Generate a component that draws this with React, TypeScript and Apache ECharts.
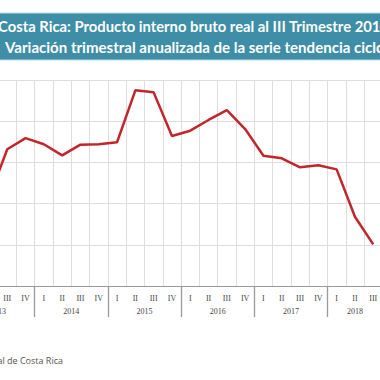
import React, { useEffect, useRef } from "react";
import * as echarts from "echarts";

const years = ["2013", "2014", "2015", "2016", "2017", "2018"];
const quartersPerYear = [4, 4, 4, 4, 4, 3];
const quarterLabels = ["I", "II", "III", "IV"];
const growth = [
  2.0, 2.14, 3.32, 3.59,
  3.44, 3.17, 3.43, 3.44,
  3.49, 4.75, 4.7, 3.64,
  3.77, 4.03, 4.27, 3.81,
  3.16, 3.1, 2.88, 2.93,
  2.83, 1.68, 1.01,
];
const titleLine1 = "Costa Rica: Producto interno bruto real al III Trimestre 2018";
const titleLine2 = "Variación trimestral anualizada de la serie tendencia ciclo";
const sourceText = "Fuente: Banco Central de Costa Rica";

const OFF = 100;
const W = 580;
const H = 380;

export default function App() {
  const ref = useRef<HTMLDivElement>(null);
  useEffect(() => {
    if (!ref.current) return;
    const chart = echarts.init(ref.current, undefined, { renderer: "svg" });
    const categories: string[] = [];
    years.forEach((y, i) => {
      for (let q = 0; q < quartersPerYear[i]; q++) categories.push(y + " " + quarterLabels[q]);
    });
    const total = categories.length;
    const yearStarts: number[] = [];
    const yearCenters: number[] = [];
    let acc = 0;
    quartersPerYear.forEach((n) => {
      yearStarts.push(acc);
      yearCenters.push(acc + n / 2);
      acc += n;
    });
    const catW = 18.3;
    const gridLeft = OFF - 38.5;
    const gridWidth = total * catW;
    chart.setOption({
      animation: false,
      backgroundColor: "#fff",
      grid: {
        left: gridLeft,
        width: gridWidth,
        top: 80,
        bottom: H - 286,
        containLabel: false,
      },
      xAxis: [
        {
          type: "category",
          data: categories,
          boundaryGap: true,
          position: "bottom",
          axisLine: { show: true, lineStyle: { color: "#9a9a9a", width: 1.2 } },
          axisTick: { show: false },
          axisLabel: {
            interval: 0,
            margin: 8,
            fontSize: 8,
            fontFamily: "Liberation Serif",
            color: "#444",
            formatter: (v: string) => v.split(" ")[1],
          },
          splitLine: { show: true, interval: 0, lineStyle: { color: "#dedede", width: 1 } },
        },
        {
          type: "value",
          min: 0,
          max: total,
          position: "bottom",
          axisLine: { show: false },
          splitLine: { show: false },
          axisTick: {
            show: true,
            customValues: yearStarts,
            length: 31,
            lineStyle: { color: "#9a9a9a", width: 1.3 },
          },
          axisLabel: {
            show: true,
            customValues: yearCenters,
            margin: 21,
            fontSize: 8,
            fontFamily: "Liberation Serif",
            color: "#444",
            formatter: (v: number) => {
              const i = yearCenters.findIndex((c) => Math.abs(c - v) < 0.01);
              return i >= 0 ? years[i] : "";
            },
          },
        },
      ],
      yAxis: {
        type: "value",
        min: 0,
        max: 5,
        interval: 1,
        axisLine: { show: false },
        axisTick: { show: false },
        axisLabel: { show: false },
        splitLine: { show: true, lineStyle: { color: "#dedede", width: 1 } },
      },
      series: [
        {
          type: "line",
          xAxisIndex: 0,
          data: growth,
          symbol: "none",
          lineStyle: { color: "#c0262c", width: 2.5 },
        },
      ],
      graphic: [
        {
          type: "rect",
          shape: { x: 0, y: 13, width: W, height: 47 },
          style: { fill: "#3d8ea6", stroke: "#b8dfe9", lineWidth: 1 },
          silent: true,
        },
        {
          type: "text",
          x: OFF - 2,
          y: 25.5,
          style: {
            text: titleLine1,
            fill: "#ffffff",
            fontSize: 14.8,
            fontWeight: "bold",
            fontFamily: "Lato",
            align: "left",
            verticalAlign: "middle",
          },
        },
        {
          type: "text",
          x: OFF + 5,
          y: 46.5,
          style: {
            text: titleLine2,
            fill: "#ffffff",
            fontSize: 15.05,
            fontWeight: "bold",
            fontFamily: "Lato",
            align: "left",
            verticalAlign: "middle",
          },
        },
        {
          type: "text",
          x: OFF + 63,
          y: 360,
          style: {
            text: sourceText,
            fill: "#555",
            fontSize: 9,
            fontFamily: "Open Sans",
            align: "right",
            verticalAlign: "middle",
          },
        },
      ],
    });
    return () => chart.dispose();
  }, []);
  return (
    <div
      style={{
        position: "fixed",
        left: 0,
        top: 0,
        width: 380,
        height: 380,
        overflow: "hidden",
        background: "#fff",
      }}
    >
      <div
        ref={ref}
        style={{ position: "absolute", left: -OFF, top: 0, width: W, height: H }}
      />
    </div>
  );
}
